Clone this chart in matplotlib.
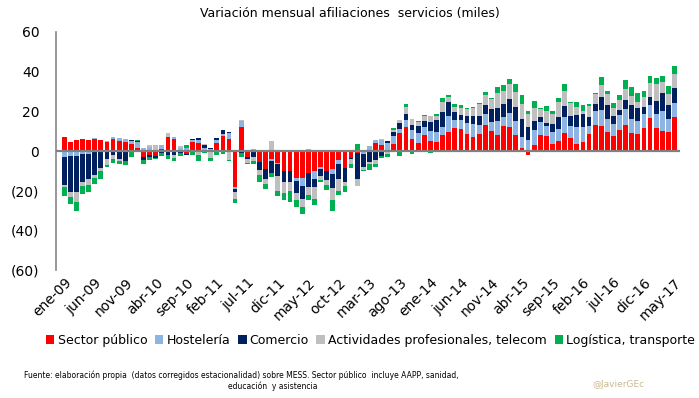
import numpy as np
import matplotlib
matplotlib.use("Agg")
import matplotlib.pyplot as plt

# monthly change in affiliations, thousands (ene-09 .. may-17)
mes = ["ene", "feb", "mar", "abr", "may", "jun", "jul", "ago", "sep", "oct", "nov", "dic"]
meses = ["%s-%02d" % (mes[i % 12], 9 + i // 12) for i in range(101)]

sector_publico = [7, 4.5, 5.5, 6, 5.5, 6, 5.5, 4.5, 6, 5, 4.5, 3.5,
                  1.5, -3, -2, -2.5, 1, 7, 6, 0, -1.5, 4.5, 4, 0,
                  0.5, 4, 7.5, 6, -18, 12, -3, 0.5, -5.5, -9, -4, -6,
                  -10, -10, -13.5, -13.5, -11, -10, -8, -10, -9, -4.5, -8.5, -3.5,
                  -1, 0, 0.5, 4, 3, 0, 3.5, 9, 12, 6, 4, 8,
                  5, 4.5, 8, 9.5, 11.5, 11, 8.5, 7, 8.5, 13, 10, 8,
                  12.5, 12, 8, 1.5, -2, 3, 8, 7.5, 3.5, 5, 9, 6.5,
                  3.5, 4.5, 8.5, 13, 12.5, 9.5, 7.5, 10.5, 13, 9, 8.5, 11.5,
                  16.5, 11.5, 10, 9.5, 17]
hosteleria = [-3, -2.5, -2.5, -1.5, -1.5, 0.5, 0, 0.5, 1, 1.5, 1.5, 1.5,
              3, 1.5, 2, 0, 2, 0, 1, 1.5, 1.5, 1, 1.5, 1.5,
              0.3, 1.5, 1, 3, -1, 3, 0.5, 0.5, 0.5, 0.5, -1, -0.5,
              0, 0, -1.5, -4, 1, -4, -1, 0, -2.5, -2, 0, 0,
              0, -1.5, 2, 1.5, 2.5, 4, 4, 2, 3.5, 4.5, 5, 4,
              5, 5, 4, 8, 4, 4.5, 5.5, 6.5, 4.5, 5.5, 4.5, 7,
              4.5, 7, 7, 5.5, 5.5, 7.5, 6.5, 5, 6, 6, 8, 6,
              8.5, 7.5, 4, 7, 8, 6.5, 6, 7.5, 8, 7, 6.5, 7,
              6.5, 7, 10, 6.5, 7]
comercio = [-14, -18, -18, -14, -12.5, -12, -8.5, -4, -2, -4, -5, 0.5,
            0.5, -1.5, -1, -1, -1, -2, -2, -1, -0.5, 0.5, 1, 1.5,
            0.5, 1, 2, 0.5, -1.5, -1, -1, -3, -4, -5, -6, -6,
            -5.5, -5.5, -6, -6.5, -7, -4, -3.5, -4.5, -7, -7.5, -7, -0.5,
            -13, -6.5, -5.5, -4.5, -2.5, 1, 2, 3, 3, 2.5, 3.5, 3,
            4.5, 6, 7.5, 7, 4, 2.5, 3.5, 4, 4.5, 4.5, 6.5, 6.5,
            6.5, 7, 7, 9, 6.5, 4.5, 2.5, 1.5, 4, 6, 5.5, 5,
            6, 6.5, 4.5, 3.5, 6.5, 7, 4, 2.5, 4.5, 7, 6.5, 3.5,
            4, 6.5, 9, 7, 8]
actividades = [-1, -2.5, -5, -2, -3, -1.5, -1.5, -3, -2, -1, 0, 0,
               0, 0, 1, 3, 0, 2, -1.5, 1, 0, 0, -2, 0.5,
               -3.5, 0, 0, -4.5, -3.5, 0.5, -2, -2, -2.5, -2.5, 5, -7.5,
               -5.5, -4.5, -3.5, -4, -4, -6, -2, -2.5, -6, -6, -2, -2.5,
               -3.5, -1.5, -1, -2, 0.5, -1.5, 1, 1.5, 3.5, 3, 2, 2.5,
               3, 2, 5, 2.5, 2.5, 3.5, 3.5, 4, 6, 5, 5, 7.5,
               7, 8, 8, 7.5, 6.5, 6.5, 4, 6, 5, 7.5, 8, 6.5,
               4, 1.5, 5.5, 5, 6.5, 5.5, 4, 5, 6, 4.5, 3, 5,
               7.5, 9, 6, 5.5, 7]
logistica = [-4.5, -3.5, -4.5, -4, -3.5, -3, -4, -1, -2, -1.5, -2, -3,
             0.5, -2, -1.5, -0.5, -1.5, -2, -1.5, -1.5, 1.5, -2, -3, -1,
             -1.5, -2, -1.5, -0.5, -2, -2, -0.5, -1.5, -3.5, -2.5, -2, -2.5,
             -3.5, -5.5, -3.5, -4, -2.5, -3, -1, -2.5, -5.5, -2, -3, -2,
             3.5, -0.5, -3, -1.5, -1, -1.5, 1, -2.5, 1.5, -1.5, 0.5, 0.5,
             -1, 1, 2, 1, 1.5, 1.5, 0.5, 0.5, 0.5, 1.5, 0.5, 3.5,
             3, 2.5, 4, 4.5, 1.5, 3.5, 0.5, 2.5, 1.5, 2, 3.5, 0.5,
             2.5, 3, 1, 0.5, 4, 2, 2.5, 2.5, 4.5, 5, 4.5, 3.5,
             3.5, 3, 3, 4.5, 4]

series = [
    ("Sector público", sector_publico, "#FF0000"),
    ("Hostelería", hosteleria, "#8DB4E2"),
    ("Comercio", comercio, "#002060"),
    ("Actividades profesionales, telecom", actividades, "#BFBFBF"),
    ("Logística, transporte", logistica, "#00B050"),
]

fig = plt.figure(figsize=(6.99, 3.98), dpi=100)
ax = fig.add_axes([0.0801, 0.3216, 0.8927, 0.598])

x = np.arange(len(meses))
pos = np.zeros(len(x))
neg = np.zeros(len(x))
for name, vals, col in series:
    v = np.array(vals, dtype=float)
    b = np.where(v >= 0, pos, neg)
    ax.bar(x, v, bottom=b, width=0.78, color=col, label=name, linewidth=0)
    pos += np.clip(v, 0, None)
    neg += np.clip(v, None, 0)

ax.axhline(0, color="#808080", lw=1.6, zorder=3)
ax.set_xlim(-1.35, 100.9)
ax.set_ylim(-60, 60)

yt = np.arange(-60, 61, 20)
ax.set_yticks(yt)
ax.set_yticklabels(["(%d)" % -t if t < 0 else "%d" % t for t in yt], fontsize=10)
ax.set_xticks(x[::5])
ax.set_xticklabels(meses[::5], rotation=45, ha="right", rotation_mode="anchor", fontsize=10)
ax.tick_params(length=0)
ax.tick_params(axis="y", pad=12)
ax.tick_params(axis="x", pad=4)

for s in ["top", "right", "bottom"]:
    ax.spines[s].set_visible(False)
ax.spines["left"].set_color("#868686")
ax.spines["left"].set_linewidth(1.2)

fig.text(0.5, 0.965, "Variación mensual afiliaciones  servicios (miles)", ha="center", va="center", fontsize=9)

fig.legend(loc="center", bbox_to_anchor=(0.53, 0.145), ncol=5, frameon=False, fontsize=9,
           handlelength=0.7, handleheight=0.7, handletextpad=0.25, columnspacing=0.6, borderaxespad=0)

fig.text(0.035, 0.058, "Fuente: elaboración propia  (datos corregidos estacionalidad) sobre MESS. Sector público  incluye AAPP, sanidad,",
         fontsize=5.5, ha="left", va="center")
fig.text(0.39, 0.03, "educación  y asistencia", fontsize=5.5, ha="center", va="center")
fig.text(0.885, 0.035, "@JavierGEc", fontsize=6.5, ha="center", va="center", color="#C9B98E")

fig.savefig("out.png", dpi=100)
